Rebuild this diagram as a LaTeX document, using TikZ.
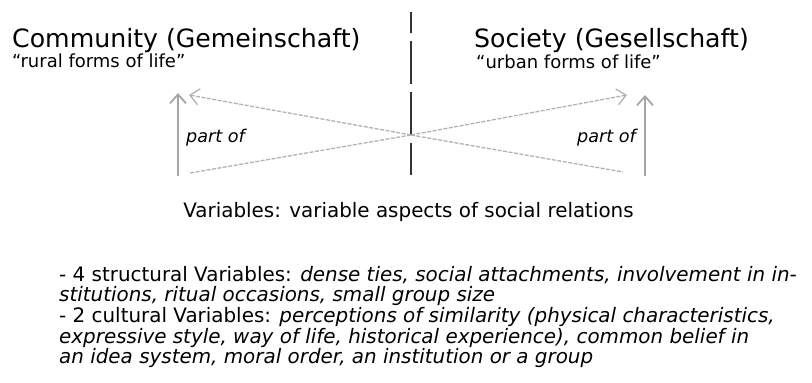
\documentclass[tikz,border=0pt]{standalone}
\usepackage{fontspec}
\setmainfont{DejaVu Sans}
\usetikzlibrary{arrows.meta}

\begin{document}
\begin{tikzpicture}[x=1pt,y=-1pt,
  title/.style={anchor=base west,inner sep=0pt,font=\fontsize{25.2}{30}\selectfont},
  subtitle/.style={anchor=base west,inner sep=0pt,font=\fontsize{18}{21}\selectfont},
  partof/.style={anchor=base west,inner sep=0pt,font=\fontsize{17.6}{20}\selectfont\itshape},
  body/.style={inner sep=0pt,font=\fontsize{19.9}{20.6}\selectfont},
  link/.style={draw=black!30,line width=1.3pt,dash pattern=on 4pt off 1.5pt},
  upward/.style={draw=black!35,line width=1.8pt},
  tip/.style={-{Straight Barb[length=9pt,width=16pt]}}]
  \useasboundingbox (0,0) rectangle (812,383);
  % headings
  \node[title] (community) at (12,47) {Community (Gemeinschaft)};
  \node[subtitle] (rural) at (12,67) {“rural forms of life”};
  \node[title] (society) at (474,47) {Society (Gesellschaft)};
  \node[subtitle] (urban) at (476,68) {“urban forms of life”};
  % divider
  \coordinate (top) at (411,12);
  \coordinate (bottom) at (411,175);
  \coordinate (mid) at (411,135);
  \draw [black!80, line width=2pt, dash pattern=on 43pt off 8pt, dash phase=22pt] (top) -- (bottom);
  % crossing lines
  \coordinate (lhead) at (189,95);
  \coordinate (ltail) at (190,173);
  \coordinate (rhead) at (627,95);
  \coordinate (rtail) at (623,172);
  \draw [link, tip] (mid) -- (lhead);
  \draw [link] (mid) -- (ltail);
  \draw [link, tip] (mid) -- (rhead);
  \draw [link] (mid) -- (rtail);
  % part of
  \coordinate (lfoot) at (178,176);
  \coordinate (ltop) at (178,93);
  \coordinate (rfoot) at (645,176);
  \coordinate (rtop) at (645,95);
  \draw [upward, tip] (lfoot) -- (ltop);
  \draw [upward, tip] (rfoot) -- (rtop);
  \node[partof] (partl) at (186,142) {part of};
  \node[partof] (partr) at (577,142) {part of};
  % variables
  \node[body, anchor=base] (vars) at (408.5,217)
    {Variables: variable aspects of social relations};
  \node[body, anchor=north west, align=left] (list) at (59,266)
    {- 4 structural Variables: \textit{dense ties, social attachments, involvement in in-}\\
     \textit{stitutions, ritual occasions, small group size}\\
     - 2 cultural Variables: \textit{perceptions of similarity (physical characteristics,}\\
     \textit{expressive style, way of life, historical experience), common belief in}\\
     \textit{an idea system, moral order, an institution or a group}};
\end{tikzpicture}
\end{document}
